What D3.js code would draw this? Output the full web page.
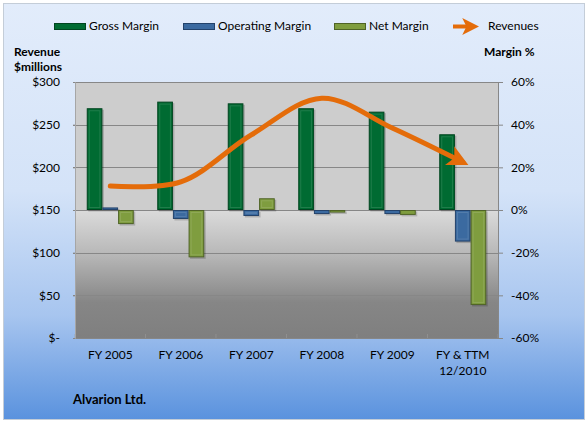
<!DOCTYPE html>
<html>
<head>
<meta charset="utf-8">
<script src="https://cdn.jsdelivr.net/npm/d3@7"></script>
<style>
  body { margin: 0; background: #fff; }
  text { font-family: Lato, "Noto Sans", sans-serif; font-size: 12px; fill: #000; }
</style>
</head>
<body>
<svg id="chart" width="588" height="423"></svg>
<script>
const categories   = ["FY 2005", "FY 2006", "FY 2007", "FY 2008", "FY 2009", "FY & TTM|12/2010"];
const grossMargin  = [47.7, 50.8, 50.0, 47.7, 46.1, 35.5];
const opMargin     = [1.2, -4.2, -2.8, -1.9, -1.9, -14.8];
const netMargin    = [-6.6, -22.2, 5.5, -1.2, -2.3, -44.5];
const revenues     = [178, 183, 238, 281, 246, 206];
const revTicks     = [0, 50, 100, 150, 200, 250, 300];
const marginTicks  = [-60, -40, -20, 0, 20, 40, 60];

const series = [
  { name: "Gross Margin",     values: grossMargin, fill: "#006B32", edge: "#00441f" },
  { name: "Operating Margin", values: opMargin,    fill: "#3B6AA0", edge: "#23426a" },
  { name: "Net Margin",       values: netMargin,   fill: "#7F9D3F", edge: "#4f6326" }
];
const orange = "#E46C0A";

const svg = d3.select('#chart');
const defs = svg.append('defs');

// chart background gradient
const bg = defs.append('linearGradient').attr('id', 'bg').attr('x1', 0).attr('y1', 0).attr('x2', 0).attr('y2', 1);
bg.append('stop').attr('offset', '0%').attr('stop-color', '#e2ecfb');
bg.append('stop').attr('offset', '45%').attr('stop-color', '#d4e3f8');
bg.append('stop').attr('offset', '75%').attr('stop-color', '#a7c5ef');
bg.append('stop').attr('offset', '100%').attr('stop-color', '#5a92de');

// plot area gradient
const pg = defs.append('linearGradient').attr('id', 'plotbg').attr('x1', 0).attr('y1', 0).attr('x2', 0).attr('y2', 1);
pg.append('stop').attr('offset', '0%').attr('stop-color', '#cdcdcd');
pg.append('stop').attr('offset', '50%').attr('stop-color', '#cdcdcd');
pg.append('stop').attr('offset', '50.5%').attr('stop-color', '#dadada');
pg.append('stop').attr('offset', '68%').attr('stop-color', '#b6b6b6');
pg.append('stop').attr('offset', '86%').attr('stop-color', '#868686');
pg.append('stop').attr('offset', '100%').attr('stop-color', '#7f7f7f');

defs.append('marker')
  .attr('id', 'arrow')
  .attr('viewBox', '0 0 10 10')
  .attr('refX', 7).attr('refY', 5)
  .attr('markerWidth', 4.2).attr('markerHeight', 4.2)
  .attr('markerUnits', 'strokeWidth')
  .attr('orient', 'auto')
  .append('path')
  .attr('d', 'M0,0 L10,5 L0,10 L2.5,5 Z')
  .attr('fill', orange);

svg.append('rect')
  .attr('x', 3.5).attr('y', 3.5).attr('width', 581).attr('height', 416)
  .attr('fill', 'url(#bg)').attr('stroke', '#c4cdd8');

const plot = { left: 75, right: 498, top: 82, bottom: 338 };

const x0 = d3.scaleBand().domain(categories).range([plot.left, plot.right]);
const x1 = d3.scaleBand().domain(series.map(s => s.name)).range([0, x0.bandwidth()]).paddingOuter(0.75);
const yRev = d3.scaleLinear().domain([0, 300]).range([plot.bottom, plot.top]);
const yPct = d3.scaleLinear().domain([-60, 60]).range([plot.bottom, plot.top]);

svg.append('rect')
  .attr('x', plot.left).attr('y', plot.top)
  .attr('width', plot.right - plot.left).attr('height', plot.bottom - plot.top)
  .attr('fill', 'url(#plotbg)');

// gridlines
svg.append('g')
  .selectAll('line')
  .data(marginTicks)
  .join('line')
  .attr('x1', plot.left - 2).attr('x2', plot.right)
  .attr('y1', d => Math.round(yPct(d)) + 0.5).attr('y2', d => Math.round(yPct(d)) + 0.5)
  .attr('stroke', '#878787');

// category tick marks along bottom
svg.append('g')
  .selectAll('line')
  .data(d3.range(categories.length + 1))
  .join('line')
  .attr('x1', i => plot.left + i * x0.step()).attr('x2', i => plot.left + i * x0.step())
  .attr('y1', plot.bottom - 4).attr('y2', plot.bottom)
  .attr('stroke', '#9a9a9a').attr('stroke-opacity', 0.6);

// left axis
const leftAxis = svg.append('g')
  .attr('transform', `translate(${plot.left},0)`)
  .call(d3.axisLeft(yRev).tickValues(revTicks).tickSize(2).tickPadding(13)
    .tickFormat(d => d === 0 ? '$-' : '$' + d));
leftAxis.select('.domain').attr('stroke', '#a6a6a6');
leftAxis.selectAll('.tick line').attr('stroke', '#878787');
leftAxis.selectAll('text').style('font-family', 'Lato, sans-serif').style('font-size', '12px');

// right axis
const rightAxis = svg.append('g')
  .attr('transform', `translate(${plot.right},0)`)
  .call(d3.axisRight(yPct).tickValues(marginTicks).tickSize(5).tickPadding(8)
    .tickFormat(d => d + '%'));
rightAxis.select('.domain').attr('stroke', '#878787');
rightAxis.selectAll('.tick line').attr('stroke', '#878787');
rightAxis.selectAll('text').style('font-family', 'Lato, sans-serif').style('font-size', '12px');

// bars
series.forEach(s => {
  const g = svg.append('g');
  g.selectAll('rect.shadow')
    .data(s.values)
    .join('rect')
    .attr('class', 'shadow')
    .attr('x', (d, i) => x0(categories[i]) + x1(s.name) + 1.5)
    .attr('y', d => Math.min(yPct(d), yPct(0)) + 1.5)
    .attr('width', x1.bandwidth())
    .attr('height', d => Math.abs(yPct(d) - yPct(0)))
    .attr('fill', '#000').attr('fill-opacity', 0.18);
  g.selectAll('rect.bar')
    .data(s.values)
    .join('rect')
    .attr('class', 'bar')
    .attr('x', (d, i) => x0(categories[i]) + x1(s.name) + 0.5)
    .attr('y', d => Math.min(yPct(d), yPct(0)) + 0.5)
    .attr('width', x1.bandwidth() - 1)
    .attr('height', d => Math.max(1, Math.abs(yPct(d) - yPct(0)) - 1))
    .attr('fill', s.fill).attr('stroke', s.edge);
  g.selectAll('rect.hi')
    .data(s.values)
    .join('rect')
    .attr('class', 'hi')
    .attr('x', (d, i) => x0(categories[i]) + x1(s.name) + 2.5)
    .attr('y', d => Math.min(yPct(d), yPct(0)) + 2.5)
    .attr('width', x1.bandwidth() - 5)
    .attr('height', d => Math.max(0, Math.abs(yPct(d) - yPct(0)) - 5))
    .attr('fill', 'none').attr('stroke', '#fff').attr('stroke-opacity', 0.12);
});

// revenue line
const line = d3.line()
  .x((d, i) => x0(categories[i]) + x0.bandwidth() / 2)
  .y(d => yRev(d))
  .curve(d3.curveCatmullRom.alpha(0.5));

svg.append('path')
  .datum(revenues)
  .attr('d', line)
  .attr('fill', 'none')
  .attr('stroke', orange)
  .attr('stroke-width', 5)
  .attr('stroke-linecap', 'round')
  .attr('marker-end', 'url(#arrow)');

// category labels
const xl = svg.append('g');
categories.forEach(c => {
  const t = xl.append('text')
    .attr('x', x0(c) + x0.bandwidth() / 2)
    .attr('y', 359)
    .attr('text-anchor', 'middle');
  c.split('|').forEach((part, j) => {
    t.append('tspan').attr('x', x0(c) + x0.bandwidth() / 2).attr('dy', j === 0 ? 0 : 16).text(part);
  });
});

// axis titles
svg.append('text').attr('x', 14).attr('y', 56).style('font-weight', 'bold').text('Revenue');
svg.append('text').attr('x', 14).attr('y', 71).style('font-weight', 'bold').text('$millions');
svg.append('text').attr('x', 484).attr('y', 56).style('font-weight', 'bold').text('Margin %');
svg.append('text').attr('x', 73).attr('y', 404).style('font-weight', 'bold').style('font-size', '13px').text('Alvarion Ltd.');

// legend
const legendX = [54, 183, 334];
series.forEach((s, i) => {
  svg.append('rect')
    .attr('x', legendX[i] + 0.5).attr('y', 23.5).attr('width', 31).attr('height', 6)
    .attr('fill', s.fill).attr('stroke', s.edge);
  svg.append('text').attr('x', legendX[i] + 35).attr('y', 30).text(s.name);
});
svg.append('line')
  .attr('x1', 453).attr('x2', 474).attr('y1', 26.5).attr('y2', 26.5)
  .attr('stroke', orange).attr('stroke-width', 4)
  .attr('marker-end', 'url(#arrow)');
svg.append('text').attr('x', 488).attr('y', 30).text('Revenues');
</script>
</body>
</html>
